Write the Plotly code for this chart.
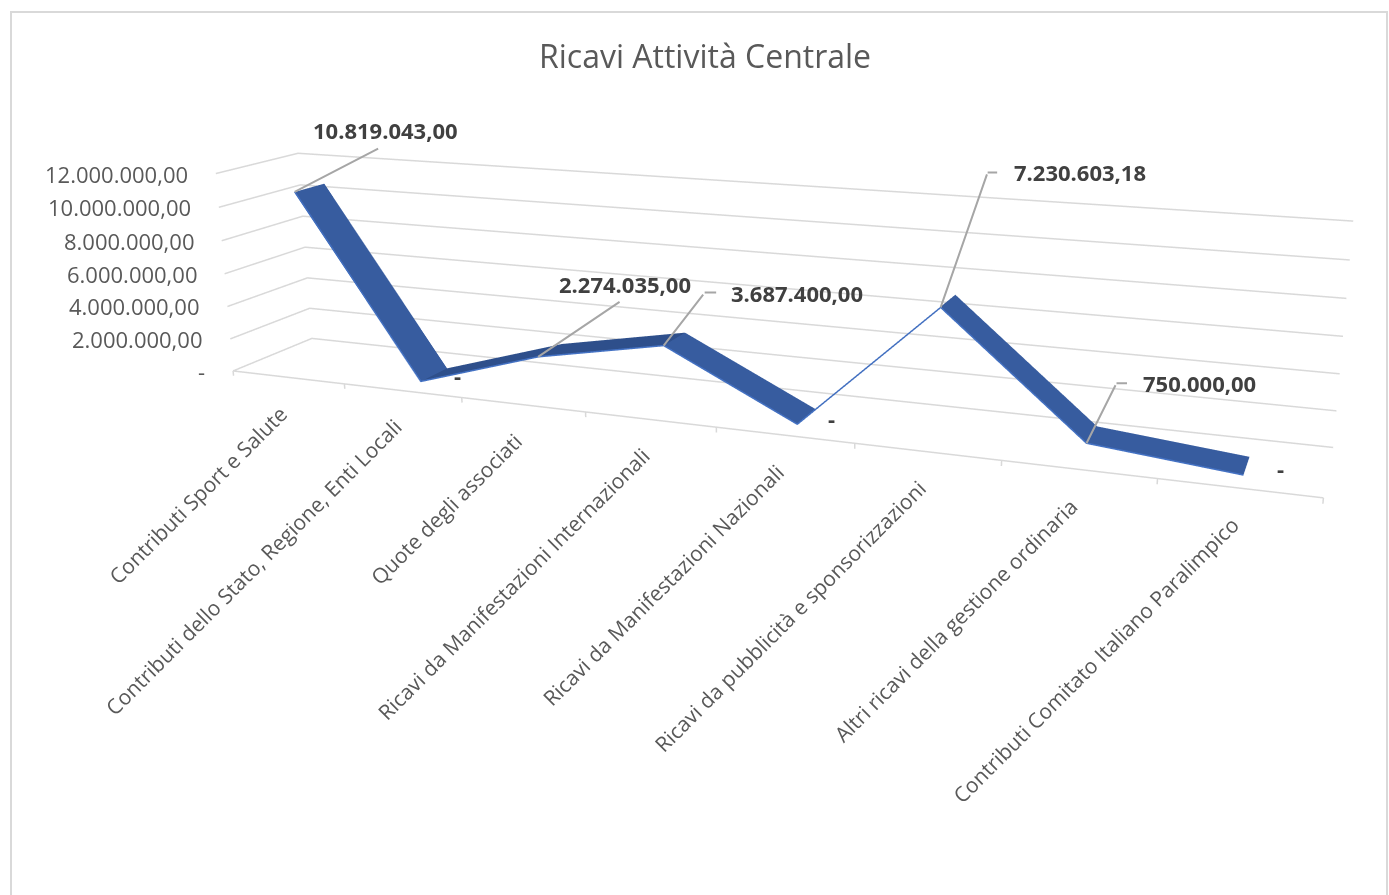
import numpy as np
import plotly.graph_objects as go

categories = ["Contributi Sport e Salute", "Contributi dello Stato, Regione, Enti Locali",
              "Quote degli associati", "Ricavi da Manifestazioni Internazionali",
              "Ricavi da Manifestazioni Nazionali", "Ricavi da pubblicità e sponsorizzazioni",
              "Altri ricavi della gestione ordinaria", "Contributi Comitato Italiano Paralimpico"]
values = [10819043.00, 0, 2274035.00, 3687400.00, 0, 7230603.18, 750000.00, 0]
value_labels = ["10.819.043,00", "-", "2.274.035,00", "3.687.400,00", "-", "7.230.603,18", "750.000,00", "-"]
ticks = [0, 2e6, 4e6, 6e6, 8e6, 10e6, 12e6]
tick_labels = ["-", "2.000.000,00", "4.000.000,00", "6.000.000,00", "8.000.000,00", "10.000.000,00", "12.000.000,00"]

W, H = 1389, 895
XR, YR, ZR = (0.4, 8.6), (-0.05, 1.05), (-6e5, 12.6e6)
# The scene needs a long focal length (45 degree fov over a tall scene) and an off-centre
# principal point, so the figure is taller than the window and shifted up by TOP px.
FIG_H, TOP, CX = 1431, 372, 777.45
DOM_X = [(2*CX - W)/W, 1.0]
EYE, CENTER = (0.52997, -1.33592, 0.35666), (0.06222, -0.08197, -0.00928)
UP = (0.00091, 0.0, 1.0)
ASPECT = (1.0, 0.13651, 0.20470)

def py(p):
    return 1 - (p + TOP)/FIG_H

GRID = "#D9D9D9"; TXT = "#595959"; DARK = "#404040"; BLUE = "#4472C4"
Y0, Y1 = 0.25, 0.62
x = np.arange(1, 9)
fig = go.Figure()

for t in ticks:
    fig.add_trace(go.Scatter3d(x=[0.5,0.5,8.5], y=[0,1,1], z=[t,t,t], mode="lines",
                               line=dict(color=GRID, width=3), hoverinfo="skip"))
fig.add_trace(go.Scatter3d(x=[0.5,8.5], y=[0,0], z=[0,0], mode="lines",
                           line=dict(color=GRID, width=3), hoverinfo="skip"))
for e in np.arange(0.5, 9):
    fig.add_trace(go.Scatter3d(x=[e,e], y=[0,0], z=[0,-3e5], mode="lines",
                               line=dict(color=GRID, width=3), hoverinfo="skip"))

vx = np.repeat(x, 2); vy = np.tile([Y0, Y1], 8); vz = np.repeat(values, 2)
i, j, k, fc = [], [], [], []
for n in range(7):
    a = 2*n
    i += [a, a+1]; j += [a+1, a+3]; k += [a+2, a+2]
    col = "#2E4F8B" if values[n+1] > values[n] else "#375C9F"
    fc += [col, col]
fig.add_trace(go.Mesh3d(x=vx, y=vy, z=vz, i=i, j=j, k=k, facecolor=fc, flatshading=True,
                        lighting=dict(ambient=1, diffuse=0, specular=0, roughness=1, fresnel=0),
                        hoverinfo="skip"))
fig.add_trace(go.Scatter3d(x=x, y=[Y0]*8, z=values, mode="lines",
                           line=dict(color=BLUE, width=3), hoverinfo="skip"))

ann = []
for c, xx in zip(categories, x):
    ann.append(dict(x=xx, y=0, z=0, text=c, showarrow=False, textangle=-45, xanchor="right", yanchor="top",
                    xshift=8, yshift=-20, font=dict(family="Open Sans", size=21, color=TXT)))
for t, l in zip(ticks, tick_labels):
    ann.append(dict(x=0.5, y=0, z=t, text=l, showarrow=False, xanchor="right", yanchor="middle",
                    xshift=-26, font=dict(family="Open Sans", size=22, color=TXT)))

leaders = {0: ((85,-44),(85,-44),(16,-62)), 2: ((83,-56),(83,-56),(19,-73)), 3: ((41,-53),(54,-53),(65,-53)),
           5: ((47,-135),(58,-135),(71,-135)), 6: ((30,-60),(42,-60),(54,-60))}
dashes = {1: (37,-6), 4: (34,-6), 7: (37,-7)}
LF = dict(family="Open Sans", size=22, color=DARK)
for n, (el, en, tx) in leaders.items():
    ann.append(dict(x=x[n], y=Y0, z=values[n], text="&nbsp;", showarrow=True, arrowhead=0, arrowwidth=2,
                    arrowcolor="#A6A6A6", ax=el[0], ay=el[1], font=dict(size=1), standoff=0))
    if en != el:
        ann.append(dict(x=x[n], y=Y0, z=values[n], text="&nbsp;", showarrow=True, arrowhead=0, arrowwidth=2,
                        arrowcolor="#A6A6A6", xshift=el[0], yshift=-el[1], ax=en[0]-el[0], ay=0,
                        font=dict(size=1), standoff=0))
    ann.append(dict(x=x[n], y=Y0, z=values[n], text="<b>%s</b>" % value_labels[n], showarrow=False, xanchor="left",
                    yanchor="middle", xshift=tx[0], yshift=-tx[1], font=LF))
for n, o in dashes.items():
    ann.append(dict(x=x[n], y=Y0, z=values[n], text="<b>-</b>", showarrow=False, xanchor="center", yanchor="middle",
                    xshift=o[0], yshift=-o[1], font=LF))

hidden = dict(visible=False)
fig.update_layout(
    width=W, height=FIG_H, margin=dict(l=0, r=0, t=0, b=0), paper_bgcolor="white", showlegend=False,
    scene=dict(
        domain=dict(x=DOM_X, y=[0, 1]), bgcolor="white", aspectmode="manual",
        aspectratio=dict(x=ASPECT[0], y=ASPECT[1], z=ASPECT[2]),
        xaxis=dict(range=list(XR), **hidden), yaxis=dict(range=list(YR), **hidden), zaxis=dict(range=list(ZR), **hidden),
        camera=dict(eye=dict(x=EYE[0], y=EYE[1], z=EYE[2]),
                    center=dict(x=CENTER[0], y=CENTER[1], z=CENTER[2]),
                    up=dict(x=UP[0], y=UP[1], z=UP[2]),
                    projection=dict(type="perspective")),
        annotations=ann,
        dragmode=False),
    shapes=[dict(type="rect", xref="paper", yref="paper", x0=11/W, x1=1387/W, y0=py(950), y1=py(12),
                 line=dict(color=GRID, width=2), layer="above")],
    annotations=[dict(xref="paper", yref="paper", x=705/W, y=py(56), text="Ricavi Attività Centrale", showarrow=False,
                      font=dict(family="Open Sans", size=32, color=TXT), xanchor="center", yanchor="middle")],
)
fig.write_html("out.html", config=dict(displayModeBar=False),
               post_script="document.documentElement.style.overflow='hidden';document.body.style.margin='0';"
                           "document.getElementById('{plot_id}').style.marginTop='-%dpx';" % TOP)
